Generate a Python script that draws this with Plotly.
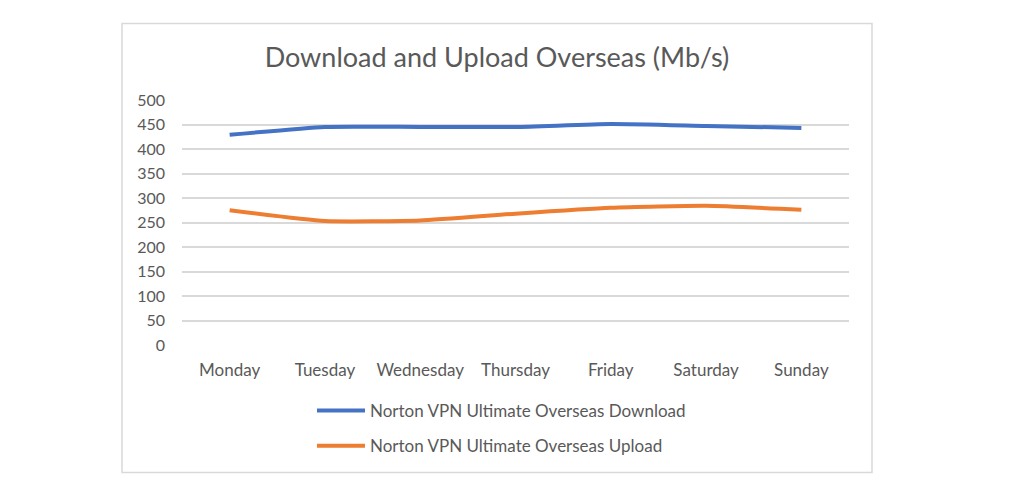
import plotly.graph_objects as go

days = ["Monday", "Tuesday", "Wednesday", "Thursday", "Friday", "Saturday", "Sunday"]
download = [429, 445, 445, 445, 451, 447, 443]
upload = [275, 253, 254, 268, 280, 284, 276]
y_ticks = [0, 50, 100, 150, 200, 250, 300, 350, 400, 450, 500]

W, H = 1025, 485
L, R, T, B = 182, 176, 100, 140
pw, ph = W - L - R, H - T - B

def px(x):
    return (x - L) / pw

def py(y):
    return (H - B - y) / ph

font = "Lato, 'Open Sans', sans-serif"
tc = "#595959"

fig = go.Figure()
fig.add_trace(go.Scatter(x=days, y=download, mode="lines", name="Norton VPN Ultimate Overseas Download",
                         line=dict(color="#4472C4", width=4, shape="spline", smoothing=0.5),
                         legendgroup="a"))
fig.add_trace(go.Scatter(x=days, y=upload, mode="lines", name="Norton VPN Ultimate Overseas Upload",
                         line=dict(color="#ED7D31", width=4, shape="spline", smoothing=0.5),
                         legendgroup="b"))

fig.update_layout(
    width=W, height=H,
    margin=dict(l=L, r=R, t=T, b=B),
    paper_bgcolor="white", plot_bgcolor="white",
    font=dict(family=font, color=tc, size=16),
    title=dict(text="Download and Upload Overseas (Mb/s)", x=px(497), xref="paper", xanchor="center",
               y=1 - 58 / H, yanchor="middle", font=dict(size=27, color=tc, family=font)),
    xaxis=dict(showgrid=False, showline=False, zeroline=False, ticks="",
               range=[-0.5, 6.5], tickfont=dict(size=17, color=tc, family=font), ticklabelstandoff=13),
    yaxis=dict(range=[0, 500], tickvals=y_ticks, showgrid=True, gridcolor="#D9D9D9", gridwidth=1.5,
               zeroline=False, showline=False, ticks="", tickfont=dict(size=16, color=tc, family=font),
               ticklabelstandoff=16),
    showlegend=True,
    legend=dict(orientation="v", x=px(312), xanchor="left", y=py(393), yanchor="top",
                traceorder="grouped", tracegroupgap=10, itemwidth=48,
                font=dict(size=17, color=tc, family=font),
                bgcolor="rgba(0,0,0,0)"),
)

fig.add_shape(type="rect", xref="paper", yref="paper",
              x0=px(122), x1=px(872), y0=py(472.5), y1=py(23.5),
              line=dict(color="#D9D9D9", width=1.5), fillcolor="rgba(0,0,0,0)", layer="below")

fig.write_html("out.html")
